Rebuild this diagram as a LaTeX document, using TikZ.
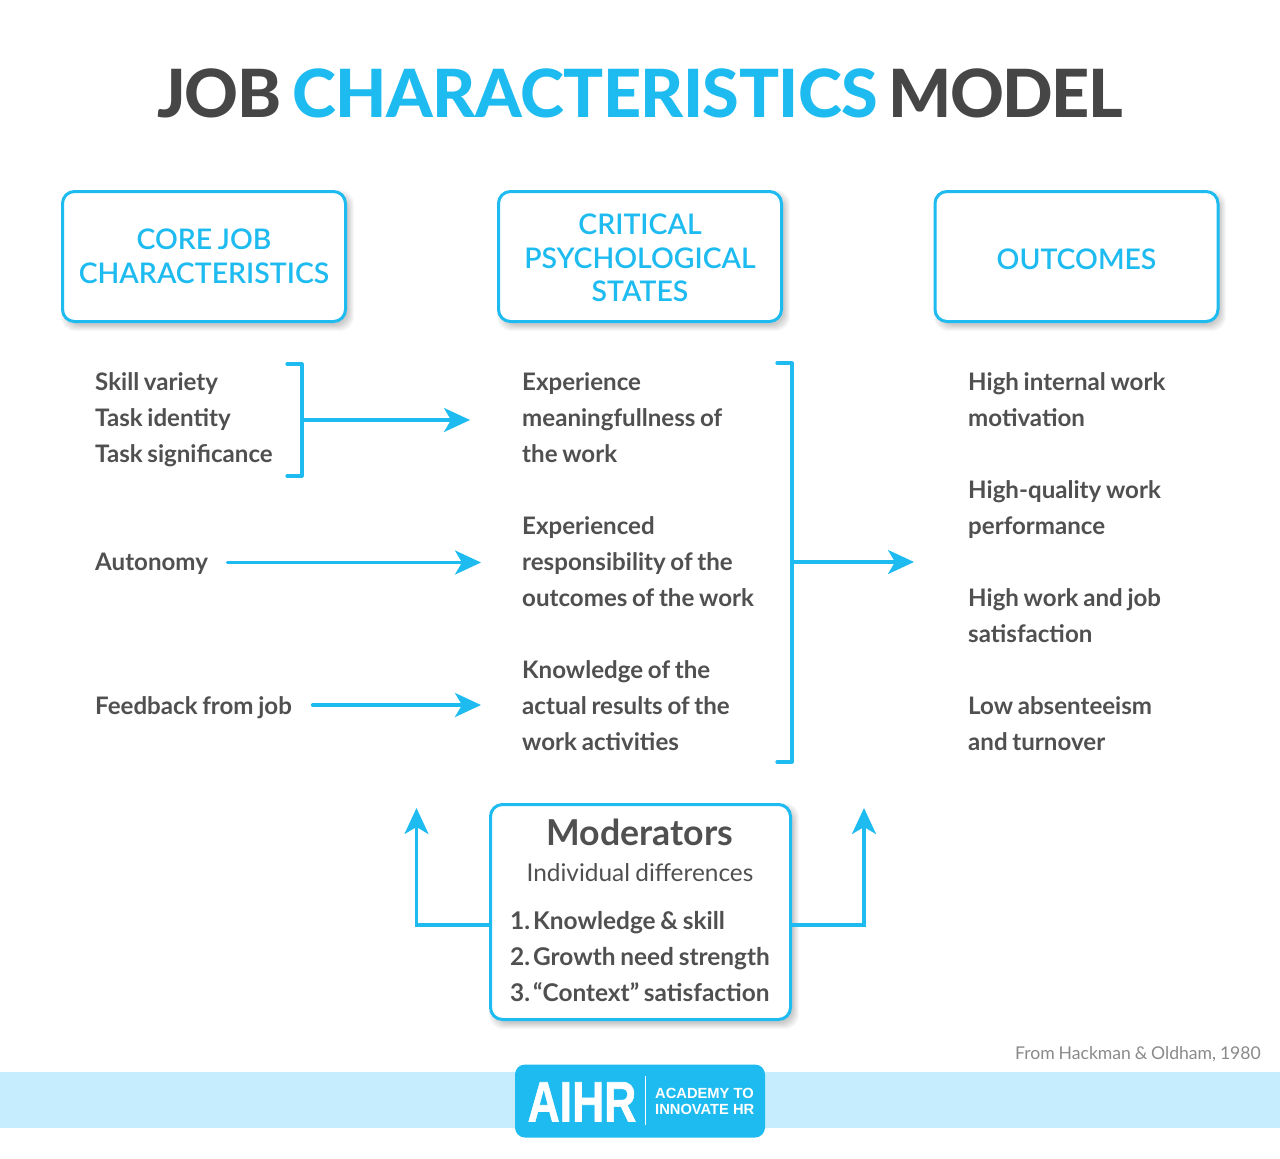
\documentclass[tikz,border=0pt]{standalone}
\usepackage{fontspec}
\setmainfont{Lato}
\newfontfamily\latomed[WordSpace=0.8]{Lato Semibold}
\newfontfamily\latobd[WordSpace=0.8]{Lato Bold}
\newfontfamily\latoreg[WordSpace=0.85]{Lato}
\newfontfamily\latobold[WordSpace=0.75]{Lato Heavy}
\newfontfamily\logofont{Liberation Sans Bold}
\newfontfamily\logoheavy[FakeBold=1.2]{Liberation Sans Bold}
\usetikzlibrary{arrows.meta}
\definecolor{aqua}{HTML}{1EBBF0}
\definecolor{band}{HTML}{C6EDFD}
\definecolor{ink}{HTML}{505050}
\definecolor{inkb}{HTML}{464646}
\definecolor{credit}{HTML}{8A8A8A}
\tikzset{
  headbox/.style={draw=aqua,line width=3pt,rounded corners=12pt,fill=white,
    minimum width=283pt,minimum height=130pt,inner sep=0pt},
  headtext/.style={text=aqua,align=center,inner sep=0pt,font=\latomed\fontsize{28.4}{33.5}\selectfont},
  modbox/.style={draw=aqua,line width=3pt,rounded corners=12pt,fill=white,inner sep=0pt,
    minimum width=300pt,minimum height=215pt},
  body/.style={anchor=west,align=left,inner sep=0pt,text=ink,font=\latobd\fontsize{24.1}{36}\selectfont},
  link/.style={draw=aqua,line width=3.2pt},
  arrowlink/.style={link,-{Stealth[length=26pt,width=24pt,inset=7pt]}},
  bracket/.style={link,line cap=round,line join=round},
}
\newcommand{\softshadow}[4]{%
  \foreach \k in {0,...,7}{
    \fill[black,opacity=0.028,rounded corners=14pt]
      (#1+\k*0.9-1,#2+\k*0.9-1) rectangle (#3+8-\k*0.9,#4+9-\k*0.9);
  }}
\begin{document}
\begin{tikzpicture}[x=1pt,y=-1pt]
\useasboundingbox (0,0) rectangle (1280,1159);
\fill[white] (0,0) rectangle (1280,1159);

\node[anchor=center,inner sep=0pt,text=inkb,font=\latobold\fontsize{66.5}{66.5}\selectfont] (title) at (640,93)
  {\addfontfeature{LetterSpace=-1.8}JOB {\addfontfeature{LetterSpace=-0.85}\textcolor{aqua}{CHARACTERISTICS}} {\addfontfeature{LetterSpace=-2.6}MODEL}};

\softshadow{62}{191}{346}{322}
\softshadow{498}{191}{782}{322}
\softshadow{935}{191}{1218}{322}
\softshadow{490}{804}{791}{1020}

\node[headbox] (coreb) at (204,256.5) {};
\node[headbox] (statesb) at (640,256.5) {};
\node[headbox] (outcomesb) at (1076.5,256.5) {};
\node[headtext] (core) at (204,256.5) {CORE JOB\\CHARACTERISTICS};
\node[headtext] (states) at (640,258) {CRITICAL\\PSYCHOLOGICAL\\STATES};
\node[headtext] (outcomes) at (1076.5,259) {OUTCOMES};

\node[body] (skills) at (95,420) {Skill variety\\Task identity\\Task significance};
\node[body] (autonomy) at (95,564) {Autonomy};
\node[body] (feedback) at (95,708) {Feedback from job};

\node[body] (meaning) at (522,418) {Experience\\meaningfullness of\\the work};
\node[body] (respons) at (522,562) {Experienced\\responsibility of the\\outcomes of the work};
\node[body] (knowledge) at (522,706) {Knowledge of the\\actual results of the\\work activities};

\node[body] (motivation) at (968,400) {High internal work\\motivation};
\node[body] (quality) at (968,510) {High-quality work\\performance};
\node[body] (satisf) at (968,616) {High work and job\\satisfaction};
\node[body] (absent) at (968,724) {Low absenteeism\\and turnover};

% brackets
\coordinate (b1t) at (287,364);
\coordinate (b1b) at (287,476);
\coordinate (b1m) at (302,420);
\coordinate (a1e) at (470,420);
\draw[bracket] (b1t) -- (302,364) -- (302,476) -- (b1b);
\draw[arrowlink] (b1m) -- (a1e);

\coordinate (b2t) at (777,363);
\coordinate (b2b) at (777,762);
\coordinate (b2m) at (792,562);
\coordinate (a2e) at (914,562);
\draw[bracket] (b2t) -- (792,363) -- (792,762) -- (b2b);
\draw[arrowlink] (b2m) -- (a2e);

\coordinate (autoS) at (227.5,562.5);
\coordinate (autoE) at (481,562.5);
\draw[arrowlink,line cap=round] (autoS) -- (autoE);
\coordinate (fbS) at (312.5,705);
\coordinate (fbE) at (481,705);
\draw[arrowlink,line cap=round] (fbS) -- (fbE);

% moderators
\node[modbox] (mod) at (640.5,912) {};
\node[anchor=base,inner sep=0pt,text=ink,font=\latobd\fontsize{35.7}{35.7}\selectfont] (modt) at (640,845) {Moderators};
\node[anchor=base,inner sep=0pt,text=ink,font=\latoreg\fontsize{24.4}{24.4}\selectfont] (mods) at (640,881) {Individual differences};
\node[body,font=\latobd\fontsize{24.4}{36}\selectfont] (modl) at (510,957) {1.\hspace{3pt}Knowledge \& skill\\2.\hspace{3pt}Growth need strength\\3.\hspace{3pt}“Context” satisfaction};

\coordinate (mL) at (490,925);
\coordinate (mLc) at (416.5,925);
\coordinate (mLe) at (416.5,808);
\coordinate (mR) at (791,925);
\coordinate (mRc) at (864,925);
\coordinate (mRe) at (864,808);
\draw[arrowlink,line join=miter] (mL) -- (mLc) -- (mLe);
\draw[arrowlink,line join=miter] (mR) -- (mRc) -- (mRe);

\node[anchor=base east,inner sep=0pt,text=credit,font=\latoreg\fontsize{17.6}{20}\selectfont] (credit) at (1261,1059) {From Hackman \& Oldham, 1980};

% footer
\fill[band] (0,1072) rectangle (1280,1128);
\node[fill=aqua,rounded corners=10pt,minimum width=250pt,minimum height=73pt,inner sep=0pt] (logo) at (640,1101) {};
\node[anchor=base west,inner sep=0pt,text=white,font=\logoheavy\fontsize{57}{57}\selectfont,xscale=0.78] (aihr) at (527.5,1121.5) {AIHR};
\draw[white,line width=1.5pt] (645.5,1076) -- (645.5,1125);
\node[anchor=base west,inner sep=0pt,text=white,align=left,font=\logofont\fontsize{14.7}{16}\selectfont] (acad) at (655,1098) {ACADEMY TO};
\node[anchor=base west,inner sep=0pt,text=white,align=left,font=\logofont\fontsize{14.7}{16}\selectfont] (innov) at (655,1114) {INNOVATE HR};
\end{tikzpicture}
\end{document}
